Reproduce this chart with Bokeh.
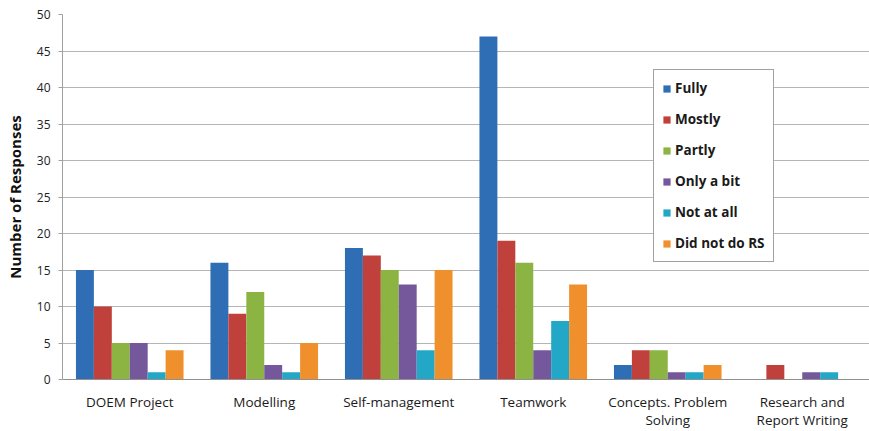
from bokeh.plotting import figure
from bokeh.models import FactorRange, Range1d, Legend, LegendItem, ColumnDataSource, FixedTicker
from bokeh.transform import dodge
from bokeh.embed import file_html
from bokeh.resources import INLINE

categories = ["DOEM Project", "Modelling", "Self-management", "Teamwork",
              "Concepts. Problem\nSolving", "Research and\nReport Writing"]
series = ["Fully", "Mostly", "Partly", "Only a bit", "Not at all", "Did not do RS"]
fully = [15, 16, 18, 47, 2, 0]
mostly = [10, 9, 17, 19, 4, 2]
partly = [5, 12, 15, 16, 4, 0]
only_a_bit = [5, 2, 13, 4, 1, 1]
not_at_all = [1, 1, 4, 8, 1, 1]
did_not_do_rs = [4, 5, 15, 13, 2, 0]
y_ticks = [0, 5, 10, 15, 20, 25, 30, 35, 40, 45, 50]

values = [fully, mostly, partly, only_a_bit, not_at_all, did_not_do_rs]
colors = ["#2f6db4", "#c0403c", "#8cb443", "#75589c", "#22a8c6", "#f0902c"]

src = ColumnDataSource(dict(cat=categories, **{s: v for s, v in zip(series, values)}))

p = figure(x_range=FactorRange(*categories, range_padding=0, factor_padding=0),
           y_range=Range1d(0, 50), width=869, height=431,
           min_border_left=62, min_border_right=0, min_border_top=14, min_border_bottom=52,
           output_backend="svg", toolbar_location=None)

bw = 0.8 / 6
renderers = []
for i, (s, c) in enumerate(zip(series, colors)):
    off = -0.4 + bw / 2 + i * bw
    r = p.vbar(x=dodge("cat", off, range=p.x_range), top=s, width=bw, source=src,
               fill_color=c, line_color=None)
    renderers.append(r)

legend = Legend(items=[LegendItem(label=s, renderers=[r]) for s, r in zip(series, renderers)],
                location=(591, 117))
legend.label_text_font = "Open Sans"
legend.label_text_font_style = "bold"
legend.label_text_font_size = "13.5px"
legend.label_text_color = "#1a1a1a"
legend.glyph_width = 9
legend.glyph_height = 9
legend.label_standoff = 4
legend.label_height = 20
legend.spacing = 11
legend.padding = 8
legend.margin = 0
legend.border_line_color = "#444444"
legend.border_line_width = 1.5
legend.background_fill_color = "white"
legend.background_fill_alpha = 1
p.add_layout(legend)

p.outline_line_color = None
p.xgrid.grid_line_color = None
p.ygrid.grid_line_color = "#b5b5b5"
p.ygrid.grid_line_width = 1
p.yaxis.ticker = FixedTicker(ticks=y_ticks)
p.yaxis.axis_label = "Number of Responses"
p.yaxis.axis_label_text_font = "Open Sans"
p.yaxis.axis_label_text_font_style = "bold"
p.yaxis.axis_label_text_font_size = "15px"
p.yaxis.axis_label_text_color = "#111111"
p.yaxis.axis_label_standoff = 9
p.yaxis.major_label_text_font = "Open Sans"
p.yaxis.major_label_text_font_size = "12px"
p.yaxis.major_label_text_color = "#222222"
p.yaxis.major_label_standoff = 8
p.yaxis.axis_line_color = "#a0a0a0"
p.yaxis.major_tick_line_color = "#a0a0a0"
p.yaxis.major_tick_out = 4
p.yaxis.major_tick_in = 0
p.yaxis.minor_tick_line_color = None

p.xaxis.axis_line_color = "#909090"
p.xaxis.major_tick_line_color = None
p.xaxis.major_label_text_font = "Open Sans"
p.xaxis.major_label_text_font_size = "13.5px"
p.xaxis.major_label_text_line_height = 1.0
p.xaxis.major_label_text_color = "#1a1a1a"
p.xaxis.major_label_standoff = 7

open("out.html", "w").write(file_html(p, INLINE))
